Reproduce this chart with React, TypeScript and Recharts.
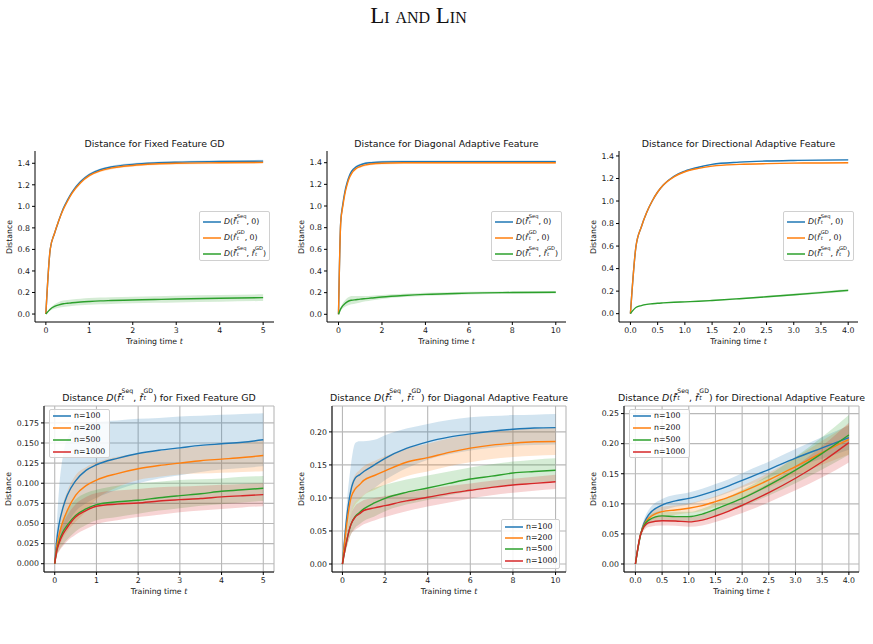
import React from 'react';
import { ComposedChart, Line, Area, XAxis, YAxis, CartesianGrid } from 'recharts';

const BLUE = '#1f77b4';
const ORANGE = '#ff7f0e';
const GREEN = '#2ca02c';
const RED = '#d62728';

// ---- top row: distances to zero and between the two estimators ----
const fixedT = [0, 0.1, 0.2, 0.3, 0.4, 0.5, 0.6, 0.8, 1.0, 1.25, 1.5, 2, 2.5, 3, 4, 5];
const fixedSeq = [0, 0.6, 0.75, 0.87, 0.98, 1.06, 1.13, 1.23, 1.295, 1.34, 1.365, 1.39, 1.403, 1.41, 1.416, 1.42];
const fixedSeqSd = [0, 0.01, 0.012, 0.012, 0.012, 0.012, 0.012, 0.012, 0.012, 0.012, 0.012, 0.012, 0.012, 0.012, 0.012, 0.012];
const fixedGd = [0, 0.6, 0.75, 0.87, 0.97, 1.05, 1.12, 1.22, 1.285, 1.33, 1.355, 1.38, 1.393, 1.4, 1.405, 1.408];
const fixedGdSd = [0, 0.01, 0.012, 0.012, 0.012, 0.012, 0.012, 0.012, 0.012, 0.012, 0.012, 0.012, 0.012, 0.012, 0.012, 0.012];
const fixedGap = [0, 0.045, 0.07, 0.085, 0.095, 0.1, 0.105, 0.112, 0.117, 0.122, 0.125, 0.13, 0.135, 0.139, 0.146, 0.152];
const fixedGapSd = [0, 0.012, 0.022, 0.027, 0.03, 0.031, 0.031, 0.031, 0.031, 0.031, 0.031, 0.031, 0.031, 0.031, 0.031, 0.031];

const diagT = [0, 0.1, 0.2, 0.3, 0.4, 0.5, 0.6, 0.8, 1.0, 1.25, 1.5, 2, 3, 4, 5, 6, 8, 10];
const diagSeq = [0, 0.85, 1.02, 1.14, 1.22, 1.28, 1.32, 1.36, 1.38, 1.395, 1.4, 1.407, 1.41, 1.41, 1.41, 1.41, 1.41, 1.41];
const diagSeqSd = [0, 0.01, 0.012, 0.012, 0.012, 0.012, 0.012, 0.012, 0.012, 0.012, 0.012, 0.012, 0.012, 0.012, 0.012, 0.012, 0.012, 0.012];
const diagGd = [0, 0.84, 1.0, 1.12, 1.2, 1.26, 1.3, 1.345, 1.365, 1.38, 1.388, 1.395, 1.399, 1.4, 1.4, 1.4, 1.4, 1.4];
const diagGdSd = [0, 0.01, 0.012, 0.012, 0.012, 0.012, 0.012, 0.012, 0.012, 0.012, 0.012, 0.012, 0.012, 0.012, 0.012, 0.012, 0.012, 0.012];
const diagGap = [0, 0.05, 0.08, 0.1, 0.115, 0.125, 0.13, 0.135, 0.14, 0.145, 0.15, 0.16, 0.174, 0.184, 0.19, 0.196, 0.201, 0.204];
const diagGapSd = [0, 0.015, 0.025, 0.03, 0.035, 0.038, 0.038, 0.035, 0.03, 0.025, 0.022, 0.018, 0.015, 0.014, 0.013, 0.012, 0.011, 0.011];

const dirT = [0, 0.1, 0.2, 0.3, 0.4, 0.5, 0.6, 0.8, 1.0, 1.25, 1.5, 2, 2.5, 3, 3.5, 4];
const dirSeq = [0, 0.59, 0.77, 0.9, 1.0, 1.08, 1.14, 1.22, 1.265, 1.3, 1.325, 1.345, 1.355, 1.36, 1.363, 1.365];
const dirSeqSd = [0, 0.005, 0.006, 0.006, 0.006, 0.006, 0.006, 0.006, 0.006, 0.006, 0.006, 0.006, 0.006, 0.006, 0.006, 0.006];
const dirGd = [0, 0.59, 0.77, 0.9, 1.0, 1.08, 1.14, 1.215, 1.26, 1.29, 1.31, 1.325, 1.332, 1.336, 1.338, 1.34];
const dirGdSd = [0, 0.005, 0.006, 0.006, 0.006, 0.006, 0.006, 0.006, 0.006, 0.006, 0.006, 0.006, 0.006, 0.006, 0.006, 0.006];
const dirGap = [0, 0.055, 0.072, 0.082, 0.088, 0.093, 0.096, 0.101, 0.105, 0.11, 0.117, 0.133, 0.15, 0.168, 0.187, 0.207];
const dirGapSd = [0, 0.003, 0.004, 0.004, 0.004, 0.004, 0.004, 0.005, 0.005, 0.005, 0.006, 0.007, 0.008, 0.01, 0.011, 0.012];

// ---- bottom row: gap between estimators for several sample sizes ----
const sampleSizes = ['n=100', 'n=200', 'n=500', 'n=1000'];

const fixedNT = [0, 0.05, 0.1, 0.2, 0.3, 0.5, 0.75, 1, 1.5, 2, 2.5, 3, 3.5, 4, 4.5, 5];
const fixedN100 = [0, 0.03, 0.048, 0.07, 0.085, 0.103, 0.116, 0.123, 0.131, 0.137, 0.141, 0.144, 0.147, 0.149, 0.151, 0.154];
const fixedN100Lo = [0, 0.015, 0.025, 0.04, 0.05, 0.065, 0.075, 0.082, 0.092, 0.1, 0.106, 0.11, 0.114, 0.117, 0.119, 0.121];
const fixedN100Hi = [0, 0.05, 0.09, 0.135, 0.155, 0.168, 0.173, 0.176, 0.178, 0.18, 0.181, 0.183, 0.184, 0.185, 0.186, 0.187];
const fixedN200 = [0, 0.022, 0.035, 0.053, 0.066, 0.085, 0.097, 0.104, 0.112, 0.118, 0.122, 0.125, 0.128, 0.13, 0.132, 0.1345];
const fixedN200Lo = [0, 0.012, 0.02, 0.032, 0.04, 0.052, 0.065, 0.08, 0.095, 0.104, 0.108, 0.111, 0.112, 0.113, 0.114, 0.115];
const fixedN200Hi = [0, 0.03, 0.05, 0.075, 0.09, 0.11, 0.12, 0.126, 0.133, 0.137, 0.14, 0.143, 0.146, 0.148, 0.151, 0.153];
const fixedN500 = [0, 0.017, 0.027, 0.04, 0.048, 0.06, 0.068, 0.0734, 0.077, 0.0788, 0.082, 0.0846, 0.087, 0.09, 0.092, 0.0937];
const fixedN500Lo = [0, 0.01, 0.016, 0.024, 0.03, 0.04, 0.048, 0.054, 0.058, 0.062, 0.066, 0.069, 0.072, 0.074, 0.076, 0.078];
const fixedN500Hi = [0, 0.024, 0.038, 0.056, 0.066, 0.08, 0.088, 0.092, 0.097, 0.1, 0.102, 0.104, 0.105, 0.106, 0.108, 0.109];
const fixedN1000 = [0, 0.016, 0.025, 0.037, 0.045, 0.058, 0.066, 0.0714, 0.074, 0.0755, 0.078, 0.0796, 0.081, 0.083, 0.0845, 0.0858];
const fixedN1000Lo = [0, 0.01, 0.015, 0.022, 0.028, 0.036, 0.043, 0.049, 0.054, 0.058, 0.061, 0.064, 0.066, 0.068, 0.07, 0.0714];
const fixedN1000Hi = [0, 0.022, 0.034, 0.05, 0.06, 0.074, 0.083, 0.088, 0.091, 0.093, 0.095, 0.096, 0.097, 0.098, 0.099, 0.1];

const diagNT = [0, 0.2, 0.4, 0.6, 0.8, 1, 1.5, 2, 3, 4, 5, 6, 7, 8, 9, 10];
const diagN100 = [0, 0.07, 0.112, 0.13, 0.135, 0.14, 0.15, 0.16, 0.175, 0.185, 0.192, 0.197, 0.201, 0.204, 0.206, 0.2065];
const diagN100Lo = [0, 0.05, 0.08, 0.095, 0.1, 0.105, 0.115, 0.127, 0.145, 0.158, 0.166, 0.172, 0.176, 0.179, 0.18, 0.181];
const diagN100Hi = [0, 0.09, 0.15, 0.183, 0.186, 0.186, 0.188, 0.195, 0.205, 0.212, 0.218, 0.222, 0.224, 0.2255, 0.226, 0.227];
const diagN200 = [0, 0.06, 0.1, 0.1136, 0.12, 0.1266, 0.134, 0.141, 0.154, 0.161, 0.169, 0.1754, 0.18, 0.183, 0.185, 0.1854];
const diagN200Lo = [0, 0.045, 0.075, 0.09, 0.097, 0.104, 0.112, 0.12, 0.133, 0.14, 0.148, 0.154, 0.159, 0.162, 0.164, 0.165];
const diagN200Hi = [0, 0.075, 0.118, 0.135, 0.142, 0.148, 0.156, 0.163, 0.175, 0.182, 0.19, 0.196, 0.2, 0.203, 0.205, 0.206];
const diagN500 = [0, 0.035, 0.06, 0.072, 0.078, 0.0834, 0.0925, 0.0995, 0.1085, 0.115, 0.122, 0.1286, 0.133, 0.1377, 0.14, 0.142];
const diagN500Lo = [0, 0.025, 0.045, 0.055, 0.06, 0.065, 0.072, 0.08, 0.09, 0.097, 0.104, 0.11, 0.116, 0.12, 0.123, 0.125];
const diagN500Hi = [0, 0.05, 0.08, 0.095, 0.1, 0.105, 0.115, 0.12, 0.128, 0.134, 0.14, 0.146, 0.151, 0.155, 0.158, 0.16];
const diagN1000 = [0, 0.035, 0.06, 0.071, 0.076, 0.081, 0.085, 0.0884, 0.0955, 0.101, 0.107, 0.1116, 0.116, 0.1196, 0.122, 0.1246];
const diagN1000Lo = [0, 0.025, 0.045, 0.052, 0.056, 0.06, 0.066, 0.071, 0.08, 0.087, 0.093, 0.099, 0.104, 0.108, 0.111, 0.1136];
const diagN1000Hi = [0, 0.045, 0.075, 0.088, 0.093, 0.097, 0.1, 0.103, 0.108, 0.113, 0.118, 0.122, 0.126, 0.129, 0.132, 0.135];

const dirNT = [0, 0.1, 0.25, 0.5, 0.75, 1, 1.25, 1.5, 1.75, 2, 2.5, 3, 3.5, 4];
const dirN100 = [0, 0.05, 0.082, 0.098, 0.105, 0.109, 0.115, 0.122, 0.13, 0.139, 0.157, 0.176, 0.193, 0.21];
const dirN100Sd = [0, 0.004, 0.008, 0.01, 0.01, 0.01, 0.01, 0.011, 0.011, 0.012, 0.013, 0.015, 0.018, 0.02];
const dirN200 = [0, 0.05, 0.076, 0.087, 0.0898, 0.0926, 0.097, 0.1036, 0.111, 0.12, 0.1397, 0.162, 0.185, 0.207];
const dirN200Sd = [0, 0.004, 0.007, 0.008, 0.008, 0.008, 0.009, 0.009, 0.01, 0.01, 0.012, 0.015, 0.02, 0.025];
const dirN500 = [0, 0.05, 0.073, 0.08, 0.0787, 0.0787, 0.083, 0.091, 0.1, 0.109, 0.131, 0.156, 0.184, 0.2145];
const dirN500Sd = [0, 0.004, 0.007, 0.008, 0.008, 0.008, 0.009, 0.01, 0.012, 0.014, 0.017, 0.022, 0.027, 0.033];
const dirN1000 = [0, 0.05, 0.0687, 0.072, 0.0715, 0.07, 0.073, 0.0798, 0.088, 0.0976, 0.1186, 0.1425, 0.17, 0.2018];
const dirN1000Sd = [0, 0.004, 0.007, 0.008, 0.008, 0.008, 0.009, 0.01, 0.011, 0.013, 0.016, 0.02, 0.026, 0.033];

type Series = { mean: number[]; lo: number[]; hi: number[]; color: string };

const around = (mean: number[], sd: number[], color: string): Series => ({
  mean,
  lo: mean.map((v, i) => v - sd[i]),
  hi: mean.map((v, i) => v + sd[i]),
  color,
});
const between = (mean: number[], lo: number[], hi: number[], color: string): Series => ({ mean, lo, hi, color });

const buildRows = (t: number[], series: Series[]) =>
  t.map((x, i) => {
    const row: Record<string, any> = { t: x };
    series.forEach((s, k) => {
      row['m' + k] = s.mean[i];
      row['b' + k] = [s.lo[i], s.hi[i]];
    });
    return row;
  });

const FONT = 'DejaVu Sans, Verdana, sans-serif';
const TICK_FS = 7.8;
const YW = 40;
const XH = 25;
const PAD_T = 10;
const PAD_R = 10;

const f1 = (v: number) => v.toFixed(1);
const f2 = (v: number) => v.toFixed(2);
const f3 = (v: number) => v.toFixed(3);
const fInt = (v: number) => String(v);

type PanelDef = {
  left: number;
  right: number;
  top: number;
  bottom: number;
  xDomain: [number, number];
  yDomain: [number, number];
  xTicks: number[];
  yTicks: number[];
  xFmt: (v: number) => string;
  yFmt: (v: number) => string;
  grid: boolean;
  t: number[];
  series: Series[];
};

const topY = [0, 0.2, 0.4, 0.6, 0.8, 1.0, 1.2, 1.4];

const panels: PanelDef[] = [
  {
    left: 35, right: 274, top: 151, bottom: 322,
    xDomain: [-0.25, 5.25], yDomain: [-0.074, 1.514],
    xTicks: [0, 1, 2, 3, 4, 5], yTicks: topY, xFmt: fInt, yFmt: f1, grid: false,
    t: fixedT,
    series: [around(fixedSeq, fixedSeqSd, BLUE), around(fixedGd, fixedGdSd, ORANGE), around(fixedGap, fixedGapSd, GREEN)],
  },
  {
    left: 327, right: 566, top: 151, bottom: 322,
    xDomain: [-0.53, 10.47], yDomain: [-0.071, 1.508],
    xTicks: [0, 2, 4, 6, 8, 10], yTicks: topY, xFmt: fInt, yFmt: f1, grid: false,
    t: diagT,
    series: [around(diagSeq, diagSeqSd, BLUE), around(diagGd, diagGdSd, ORANGE), around(diagGap, diagGapSd, GREEN)],
  },
  {
    left: 619, right: 858, top: 151, bottom: 322,
    xDomain: [-0.21, 4.18], yDomain: [-0.074, 1.444],
    xTicks: [0, 0.5, 1, 1.5, 2, 2.5, 3, 3.5, 4], yTicks: topY, xFmt: f1, yFmt: f1, grid: false,
    t: dirT,
    series: [around(dirSeq, dirSeqSd, BLUE), around(dirGd, dirGdSd, ORANGE), around(dirGap, dirGapSd, GREEN)],
  },
  {
    left: 44, right: 274, top: 406, bottom: 572,
    xDomain: [-0.257, 5.257], yDomain: [-0.0103, 0.196],
    xTicks: [0, 1, 2, 3, 4, 5], yTicks: [0, 0.025, 0.05, 0.075, 0.1, 0.125, 0.15, 0.175],
    xFmt: fInt, yFmt: f3, grid: true,
    t: fixedNT,
    series: [
      between(fixedN100, fixedN100Lo, fixedN100Hi, BLUE),
      between(fixedN200, fixedN200Lo, fixedN200Hi, ORANGE),
      between(fixedN500, fixedN500Lo, fixedN500Hi, GREEN),
      between(fixedN1000, fixedN1000Lo, fixedN1000Hi, RED),
    ],
  },
  {
    left: 332, right: 566, top: 406, bottom: 572,
    xDomain: [-0.49, 10.49], yDomain: [-0.0121, 0.2392],
    xTicks: [0, 2, 4, 6, 8, 10], yTicks: [0, 0.05, 0.1, 0.15, 0.2],
    xFmt: fInt, yFmt: f2, grid: true,
    t: diagNT,
    series: [
      between(diagN100, diagN100Lo, diagN100Hi, BLUE),
      between(diagN200, diagN200Lo, diagN200Hi, ORANGE),
      between(diagN500, diagN500Lo, diagN500Hi, GREEN),
      between(diagN1000, diagN1000Lo, diagN1000Hi, RED),
    ],
  },
  {
    left: 624, right: 859, top: 406, bottom: 572,
    xDomain: [-0.214, 4.19], yDomain: [-0.0133, 0.2626],
    xTicks: [0, 0.5, 1, 1.5, 2, 2.5, 3, 3.5, 4], yTicks: [0, 0.05, 0.1, 0.15, 0.2, 0.25],
    xFmt: f1, yFmt: f2, grid: true,
    t: dirNT,
    series: [
      around(dirN100, dirN100Sd, BLUE),
      around(dirN200, dirN200Sd, ORANGE),
      around(dirN500, dirN500Sd, GREEN),
      around(dirN1000, dirN1000Sd, RED),
    ],
  },
];

const tickStyle = { fontSize: TICK_FS, fill: '#1a1a1a', fontFamily: FONT };

function Panel({ p }: { p: PanelDef }) {
  const w = p.right - p.left + YW + PAD_R;
  const h = p.bottom - p.top + PAD_T + XH;
  const rows = buildRows(p.t, p.series);
  return (
    <div style={{ position: 'absolute', left: p.left - YW, top: p.top - PAD_T }}>
      <ComposedChart width={w} height={h} data={rows} margin={{ top: PAD_T, right: PAD_R, left: 0, bottom: 0 }}>
        {p.grid && <CartesianGrid stroke="#b8b8b8" strokeWidth={1.1} />}
        <XAxis
          dataKey="t" type="number" domain={p.xDomain} ticks={p.xTicks} allowDataOverflow interval={0}
          tickFormatter={p.xFmt} height={XH} tickSize={3} tickMargin={2} tick={tickStyle} stroke="#000"
        />
        <YAxis
          type="number" domain={p.yDomain} ticks={p.yTicks} allowDataOverflow interval={0}
          tickFormatter={p.yFmt} width={YW} tickSize={3} tickMargin={2} tick={tickStyle} stroke="#000"
        />
        <XAxis xAxisId="top" orientation="top" type="number" domain={p.xDomain} allowDataOverflow height={0} tick={false} tickLine={false} stroke="#000" />
        <YAxis yAxisId="right" orientation="right" type="number" domain={p.yDomain} allowDataOverflow width={0} tick={false} tickLine={false} stroke="#000" />
        {p.series.map((s, k) => (
          <Area
            key={'b' + k} dataKey={'b' + k} type="monotone" stroke="none" fill={s.color} fillOpacity={0.2}
            isAnimationActive={false} activeDot={false}
          />
        ))}
        {p.series.map((s, k) => (
          <Line
            key={'m' + k} dataKey={'m' + k} type="monotone" stroke={s.color} strokeWidth={1.4}
            dot={false} activeDot={false} isAnimationActive={false}
          />
        ))}
      </ComposedChart>
    </div>
  );
}

// f with a hat (plus a tilde for the sequential estimator) and a stacked sup/sub pair
function Fhat({ sup, seq }: { sup: string; seq?: boolean }) {
  const small = { fontSize: '0.66em', lineHeight: 1 } as const;
  return (
    <span style={{ whiteSpace: 'nowrap' }}>
      <i>{seq ? 'f\u0302\u0303' : 'f\u0302'}</i>
      <span style={{ position: 'relative', display: 'inline-block', marginLeft: '0.12em' }}>
        <span style={{ ...small, visibility: 'hidden' }}>{sup}</span>
        <span style={{ ...small, position: 'absolute', left: 0, top: '-0.5em' }}>{sup}</span>
        <i style={{ ...small, position: 'absolute', left: 0, top: '0.62em' }}>t</i>
      </span>
    </span>
  );
}

const gapLabel = (
  <>
    <i>D</i>(<Fhat sup="Seq" seq />, <Fhat sup="GD" />)
  </>
);

const topLegend = [
  { color: BLUE, label: <><i>D</i>(<Fhat sup="Seq" seq />, 0)</> },
  { color: ORANGE, label: <><i>D</i>(<Fhat sup="GD" />, 0)</> },
  { color: GREEN, label: gapLabel },
];
const nLegend = sampleSizes.map((s, i) => ({ color: [BLUE, ORANGE, GREEN, RED][i], label: <>{s}</> }));

function LegendBox({
  x, y, w, h, rowH, firstY, items,
}: {
  x: number; y: number; w: number; h: number; rowH: number; firstY: number;
  items: { color: string; label: React.ReactNode }[];
}) {
  return (
    <div
      style={{
        position: 'absolute', left: x, top: y, width: w, height: h, boxSizing: 'border-box',
        border: '1px solid #d0d0d0', borderRadius: 2, background: 'rgba(255,255,255,0.85)',
        fontSize: TICK_FS, color: '#111',
      }}
    >
      {items.map((it, i) => (
        <div key={i}>
          <svg
            width={18} height={4}
            style={{ position: 'absolute', left: 2.5, top: firstY + i * rowH - 2 }}
          >
            <line x1={0} x2={18} y1={2} y2={2} stroke={it.color} strokeWidth={1.5} />
          </svg>
          <div
            style={{
              position: 'absolute', left: 24, top: firstY + i * rowH, transform: 'translateY(-50%)',
              whiteSpace: 'nowrap', lineHeight: 1.2,
            }}
          >
            {it.label}
          </div>
        </div>
      ))}
    </div>
  );
}

function Text({
  x, y, size, children, rotate,
}: { x: number; y: number; size: number; children: React.ReactNode; rotate?: boolean }) {
  return (
    <div
      style={{
        position: 'absolute', left: x, top: y, fontSize: size, whiteSpace: 'nowrap', lineHeight: 1.2,
        transform: `translate(-50%, -50%)${rotate ? ' rotate(-90deg)' : ''}`, color: '#111',
      }}
    >
      {children}
    </div>
  );
}

const titles: React.ReactNode[] = [
  'Distance for Fixed Feature GD',
  'Distance for Diagonal Adaptive Feature',
  'Distance for Directional Adaptive Feature',
  <>Distance {gapLabel} for Fixed Feature GD</>,
  <>Distance {gapLabel} for Diagonal Adaptive Feature</>,
  <>Distance {gapLabel} for Directional Adaptive Feature</>,
];
const yLabelX = [9.5, 302, 594, 9, 302, 594];

export default function App() {
  return (
    <div
      style={{
        position: 'absolute', left: 0, top: 0, width: 873, height: 644, background: '#fff',
        overflow: 'hidden', fontFamily: FONT,
      }}
    >
      <div
        style={{
          position: 'absolute', left: 418.5, top: 14.5, transform: 'translate(-50%, -50%)', whiteSpace: 'nowrap',
          fontFamily: 'Liberation Serif, DejaVu Serif, serif', fontVariant: 'small-caps', fontSize: 23,
          lineHeight: 1, color: '#111',
        }}
      >
        Li and Lin
      </div>
      {panels.map((p, i) => (
        <Panel key={i} p={p} />
      ))}
      {panels.map((p, i) => {
        const cx = (p.left + p.right) / 2;
        const top = i < 3;
        return (
          <React.Fragment key={'txt' + i}>
            <Text x={cx} y={top ? 143.5 : 397.5} size={9.4}>{titles[i]}</Text>
            <Text x={yLabelX[i]} y={(p.top + p.bottom) / 2} size={TICK_FS} rotate>Distance</Text>
            <Text x={cx} y={top ? 341.5 : 591.5} size={TICK_FS}>Training time <i>t</i></Text>
          </React.Fragment>
        );
      })}
      <LegendBox x={199} y={211} w={71} h={50} rowH={16} firstY={9.7} items={topLegend} />
      <LegendBox x={491} y={211} w={71} h={50} rowH={16} firstY={9.7} items={topLegend} />
      <LegendBox x={783} y={211} w={71} h={50} rowH={16} firstY={9.7} items={topLegend} />
      <LegendBox x={49} y={409} w={61} h={49} rowH={11.9} firstY={6.4} items={nLegend} />
      <LegendBox x={501} y={519} w={59} h={50} rowH={11.3} firstY={6.6} items={nLegend} />
      <LegendBox x={629} y={409} w={61} h={49} rowH={11.9} firstY={6.4} items={nLegend} />
    </div>
  );
}
